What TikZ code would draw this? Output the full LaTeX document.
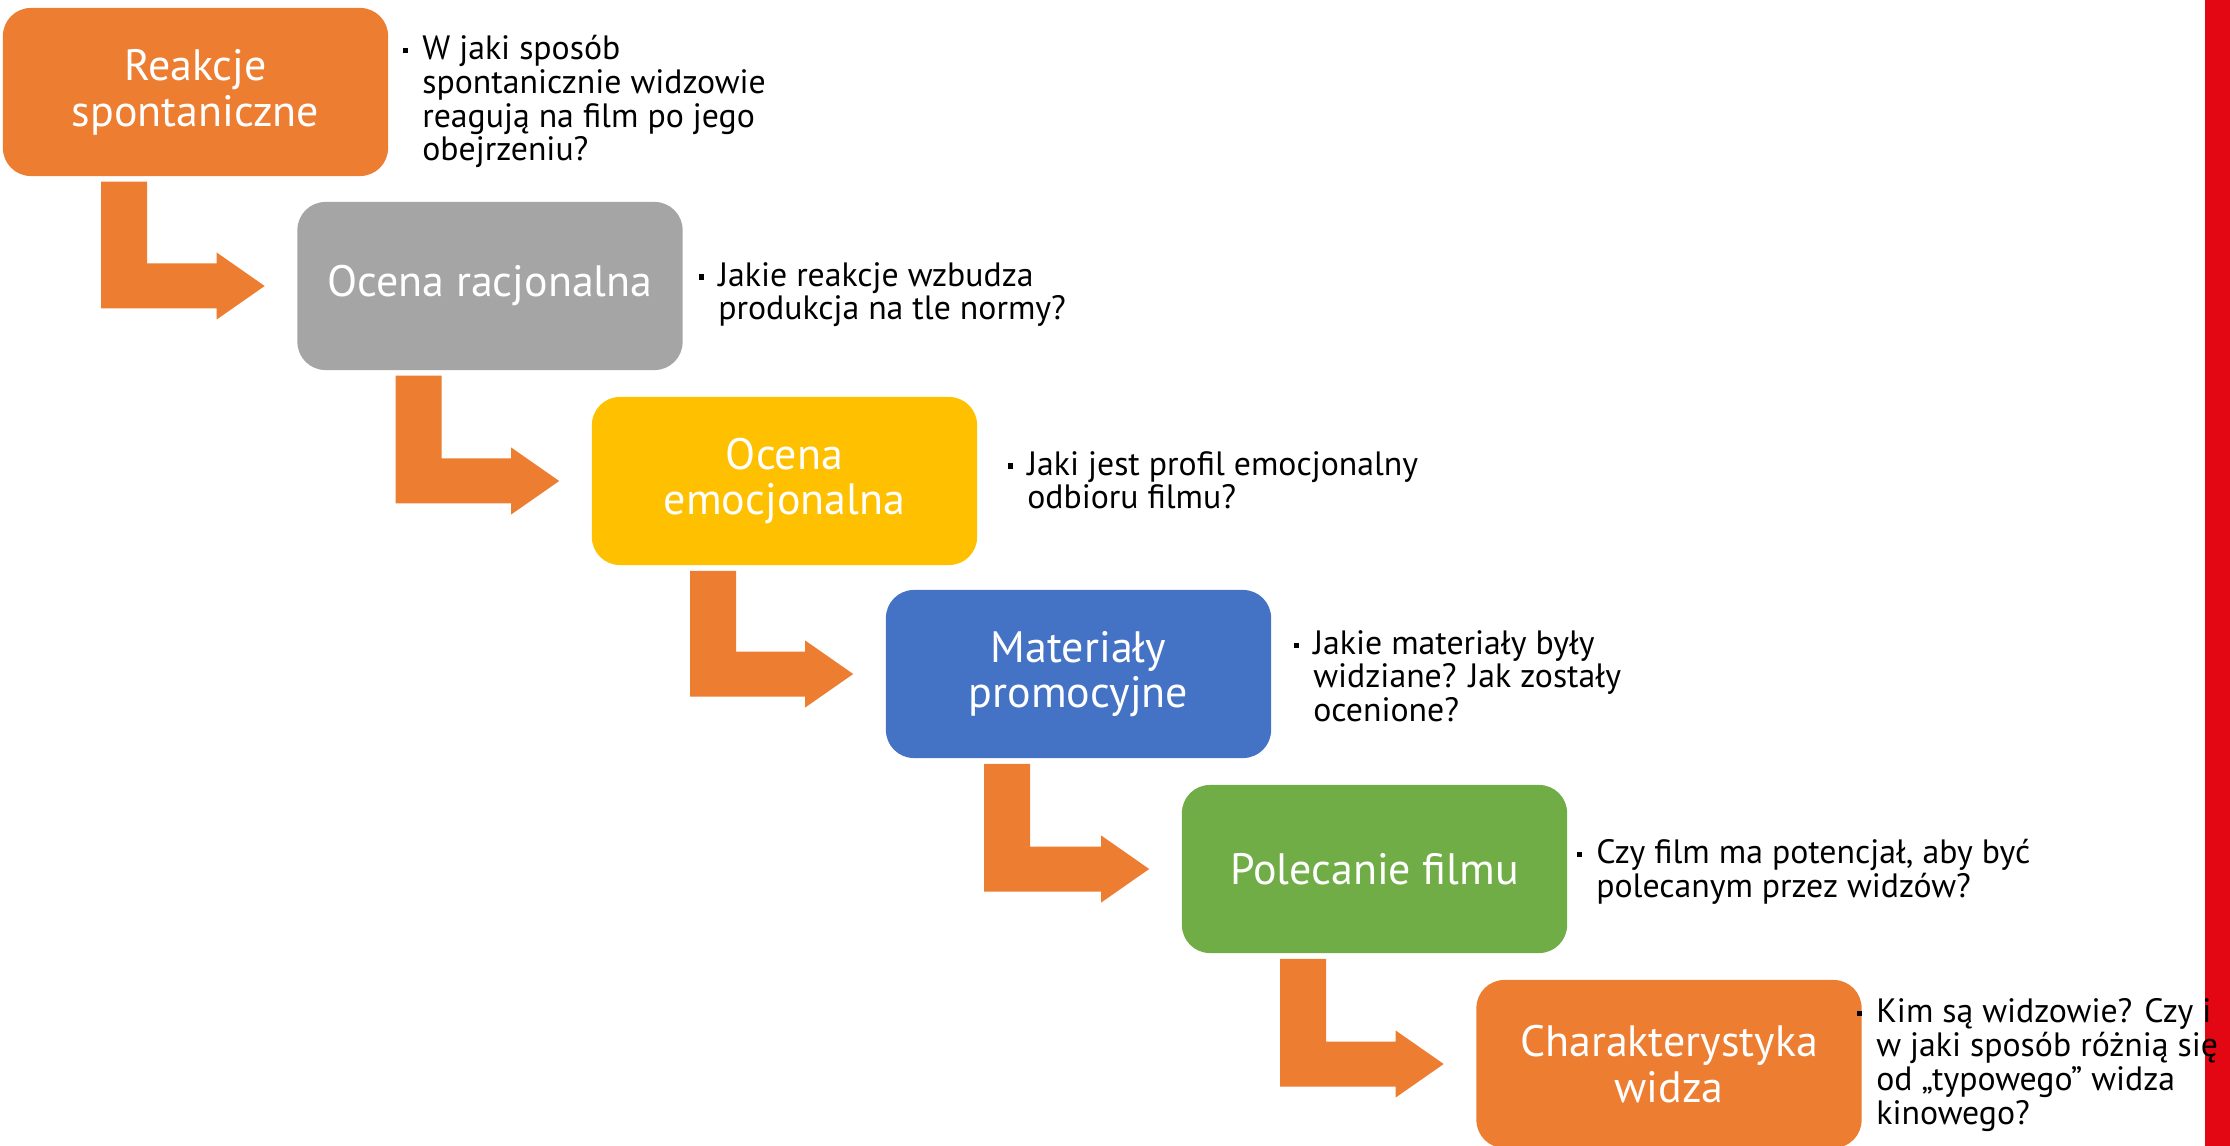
\documentclass[tikz,border=0pt]{standalone}
\usepackage{fontspec}
\setmainfont{PT Sans}
\usetikzlibrary{calc}
\definecolor{boxorange}{HTML}{ED7D31}
\definecolor{boxgray}{HTML}{A5A5A5}
\definecolor{boxyellow}{HTML}{FFC000}
\definecolor{boxblue}{HTML}{4472C4}
\definecolor{boxgreen}{HTML}{70AD47}
\definecolor{sidered}{HTML}{E30613}
\newcommand{\bul}{\rule[0.35ex]{1.6pt}{1.6pt}\hspace{0.14cm}}

\begin{document}
\begin{tikzpicture}[x=0.01cm, y=-0.01cm,
  box/.style={rounded corners=0.28cm, minimum width=3.85cm, minimum height=1.68cm,
    inner sep=0, align=center, text=white, font=\fontsize{12.5}{13}\selectfont},
  note/.style={anchor=west, inner sep=0, font=\fontsize{9.6}{9.4}\selectfont},
  steparrow/.style={fill=boxorange}]
\useasboundingbox (0,0) rectangle (2230,1146);
\fill [sidered] (2205,0) rectangle (2230,1146);
% steps
\node [box, fill=boxorange] (reakcje) at (195.5,92) {Reakcje\\spontaniczne};
\node [box, fill=boxgray] (racjo) at (490,286) {Ocena racjonalna};
\node [box, fill=boxyellow] (emocjo) at (784.5,481) {Ocena\\emocjonalna};
\node [box, fill=boxblue] (materialy) at (1078.5,674) {Materiały\\promocyjne};
\node [box, fill=boxgreen] (polecanie) at (1374.5,869) {Polecanie filmu};
\node [box, fill=boxorange] (widz) at (1669,1064) {Charakterystyka\\widza};
% bent arrows
\foreach \a/\b in {reakcje/racjo, racjo/emocjo, emocjo/materialy, materialy/polecanie, polecanie/widz} {
  \coordinate (t) at ($(\b.west)+(-32,0)$);
  \coordinate (s) at ($(\a.south west)+(99,5)$);
  \fill [steparrow] (s) -- ++(46,0) -- ($(s |- t)+(46,-22.5)$) -- ($(t)+(-48,-22.5)$)
    -- ($(t)+(-48,-33.5)$) -- (t) -- ($(t)+(-48,33.5)$) -- ($(t)+(-48,22.5)$)
    -- ($(s |- t)+(0,22.5)$) -- cycle;
}
% questions
\node [note] (q1) at (402,103) {\bul\begin{tabular}[t]{@{}l@{}}W jaki sposób\\spontanicznie widzowie\\reagują na film po jego\\obejrzeniu?\end{tabular}};
\node [note] (q2) at (698,296) {\bul\begin{tabular}[t]{@{}l@{}}Jakie reakcje wzbudza\\produkcja na tle normy?\end{tabular}};
\node [note] (q3) at (1007,485) {\bul\begin{tabular}[t]{@{}l@{}}Jaki jest profil emocjonalny\\odbioru filmu?\end{tabular}};
\node [note] (q4) at (1293,681) {\bul\begin{tabular}[t]{@{}l@{}}Jakie materiały były\\widziane? Jak zostały\\ocenione?\end{tabular}};
\node [note] (q5) at (1576,873) {\bul\begin{tabular}[t]{@{}l@{}}Czy film ma potencjał, aby być\\polecanym przez widzów?\end{tabular}};
\node [note] (q6) at (1856,1066) {\bul\begin{tabular}[t]{@{}l@{}}Kim są widzowie? Czy i\\w jaki sposób różnią się\\od „typowego” widza\\kinowego?\end{tabular}};
\end{tikzpicture}
\end{document}
